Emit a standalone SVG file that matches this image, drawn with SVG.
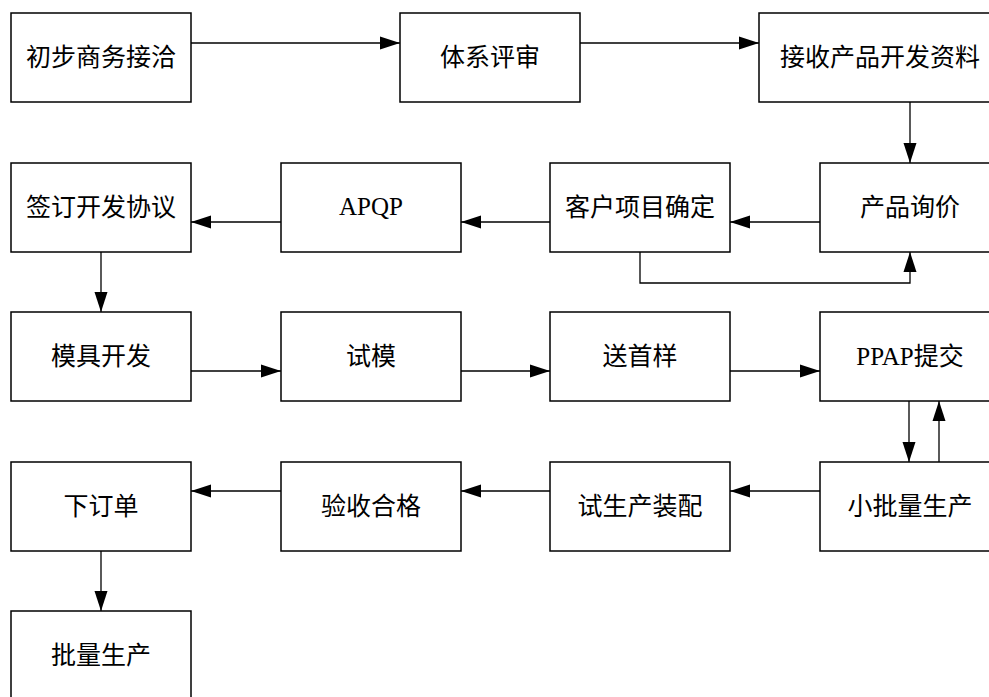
<svg xmlns="http://www.w3.org/2000/svg" width="989" height="697" viewBox="0 0 989 697">
<style>
rect.b{fill:#fff;stroke:#000;stroke-width:1.5}
text{font-family:"Liberation Serif","Noto Sans CJK SC",serif;font-size:25px;text-anchor:middle;fill:#000}
.c{fill:none;stroke:#000;stroke-width:1.3}
</style>
<defs>
<marker id="ah" markerWidth="20" markerHeight="13" refX="20" refY="6.5" orient="auto" markerUnits="userSpaceOnUse" overflow="visible">
<path d="M0,0 L20,6.5 L0,13 Z" fill="#000"/>
</marker>
</defs>
<rect width="989" height="697" fill="#fff"/>
<g id="connectors" class="c" marker-end="url(#ah)">
<path d="M191,43 H400"/>
<path d="M580,43 H759"/>
<path d="M910,102 V163"/>
<path d="M820,222 H730"/>
<path d="M550,222 H461"/>
<path d="M281,222 H191"/>
<path d="M640,252 V283 H910 V252"/>
<path d="M101,252 V312"/>
<path d="M191,371 H281"/>
<path d="M461,371 H550"/>
<path d="M730,371 H820"/>
<path d="M909,401 V462"/>
<path d="M939,462 V401"/>
<path d="M820,491 H730"/>
<path d="M550,491 H461"/>
<path d="M281,491 H191"/>
<path d="M101,550 V611"/>
</g>
<g id="n1"><rect class="b" x="11" y="13" width="180" height="89"/><text x="101" y="66">初步商务接洽</text></g>
<g id="n2"><rect class="b" x="400" y="13" width="180" height="89"/><text x="490" y="66">体系评审</text></g>
<g id="n3"><rect class="b" x="759" y="13" width="241" height="89"/><text x="880" y="66">接收产品开发资料</text></g>
<g id="n4"><rect class="b" x="11" y="163" width="180" height="89"/><text x="101" y="216">签订开发协议</text></g>
<g id="n5"><rect class="b" x="281" y="163" width="180" height="89"/><text x="371" y="215">APQP</text></g>
<g id="n6"><rect class="b" x="550" y="163" width="180" height="89"/><text x="640" y="216">客户项目确定</text></g>
<g id="n7"><rect class="b" x="820" y="163" width="180" height="89"/><text x="910" y="216">产品询价</text></g>
<g id="n8"><rect class="b" x="11" y="312" width="180" height="89"/><text x="101" y="365">模具开发</text></g>
<g id="n9"><rect class="b" x="281" y="312" width="180" height="89"/><text x="371" y="365">试模</text></g>
<g id="n10"><rect class="b" x="550" y="312" width="180" height="89"/><text x="640" y="365">送首样</text></g>
<g id="n11"><rect class="b" x="820" y="312" width="180" height="89"/><text x="910" y="365">PPAP提交</text></g>
<g id="n12"><rect class="b" x="11" y="462" width="180" height="89"/><text x="101" y="515">下订单</text></g>
<g id="n13"><rect class="b" x="281" y="462" width="180" height="89"/><text x="371" y="515">验收合格</text></g>
<g id="n14"><rect class="b" x="550" y="462" width="180" height="89"/><text x="640" y="515">试生产装配</text></g>
<g id="n15"><rect class="b" x="820" y="462" width="180" height="89"/><text x="910" y="515">小批量生产</text></g>
<g id="n16"><rect class="b" x="11" y="611" width="180" height="89"/><text x="101" y="664">批量生产</text></g>
</svg>
